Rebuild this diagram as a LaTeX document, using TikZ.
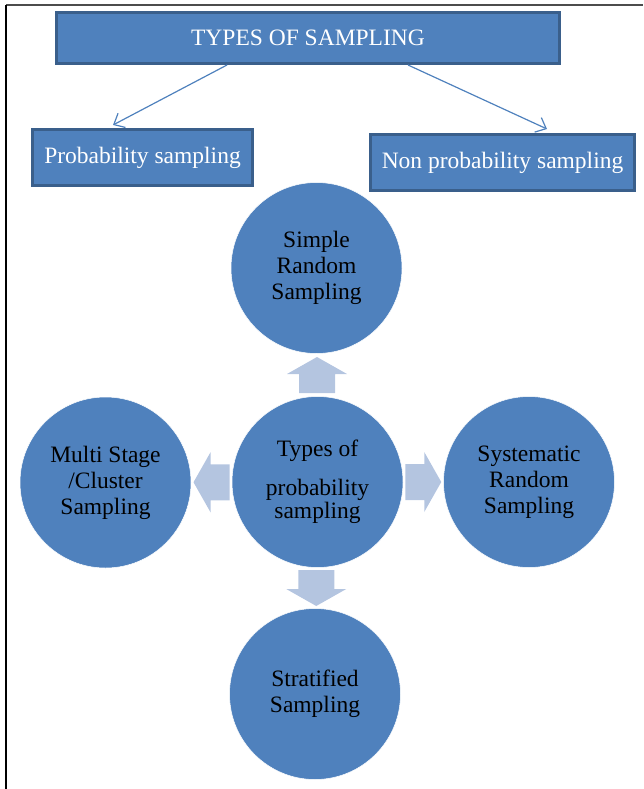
\documentclass[tikz,border=0pt]{standalone}
\usepackage{fontspec}
\IfFontExistsTF{LiberationSerif-Regular.ttf}{\setmainfont{LiberationSerif-Regular.ttf}}{\setmainfont{Liberation Serif}}
\usetikzlibrary{arrows.meta,calc}
\definecolor{boxblue}{HTML}{4F81BD}
\definecolor{boxedge}{HTML}{3A5F8B}
\definecolor{arrowfill}{HTML}{B4C5E0}
\tikzset{
  titlebox/.style={rectangle, fill=boxblue, draw=boxedge, line width=3pt, text=white, font=\rmfamily\fontsize{23.5}{26}\selectfont, inner sep=0pt},
  bubble/.style={circle, fill=boxblue, draw=white, line width=0.5pt, minimum size=171pt, inner sep=0pt, align=center, text=black, font=\rmfamily\fontsize{23.5}{26}\selectfont},
  link/.style={draw=boxblue, line width=1.2pt, -{Straight Barb[length=9pt,width=16pt]}},
  blockarrow/.pic={\fill[arrowfill] (-18,-18) -- (1,-18) -- (1,-30) -- (18,0) -- (1,30) -- (1,18) -- (-18,18) -- cycle;}
}
\begin{document}
\begin{tikzpicture}[x=1pt,y=-1pt]
\useasboundingbox (0,0) rectangle (643,789);
% frame
\draw[draw=black!70, line width=2pt] (6,5) -- (643,5);
\draw[draw=black, line width=2pt] (6,5) -- (6,789);
% boxes
\node[titlebox, minimum width=503pt, minimum height=51pt] (title) at (308,38) {TYPES OF SAMPLING};
\node[titlebox, minimum width=220pt, minimum height=56pt] (prob) at (142.5,157.5) {Probability sampling};
\node[titlebox, minimum width=264pt, minimum height=56pt] (nonprob) at (502.5,162.5) {Non probability sampling};
\draw[link] ($(title.south west)+(172,0)$) -- ($(prob.north west)+(82,-3)$);
\draw[link] ($(title.south west)+(353,0)$) -- ($(nonprob.north west)+(178,-4)$);
% circles
\node[bubble] (center) at (317.5,482) {Types of\\[13pt]probability\\[-3pt]sampling};
\node[bubble] (top) at (316.5,268) {Simple\\Random\\Sampling};
\node[bubble] (left) at (105.5,482.5) {Multi Stage\\/Cluster\\Sampling};
\node[bubble] (right) at (529,482) {Systematic\\Random\\Sampling};
\node[bubble] (bottom) at (315,694) {Stratified\\Sampling};
% block arrows
\pic[rotate=90] at ($(center)!0.5!(top)$) {blockarrow};
\pic[rotate=-90] at ($(center)!0.5!(bottom)$) {blockarrow};
\pic[rotate=180] at ($(center)!0.5!(left)$) {blockarrow};
\pic at ($(center)!0.5!(right)$) {blockarrow};
\end{tikzpicture}
\end{document}
